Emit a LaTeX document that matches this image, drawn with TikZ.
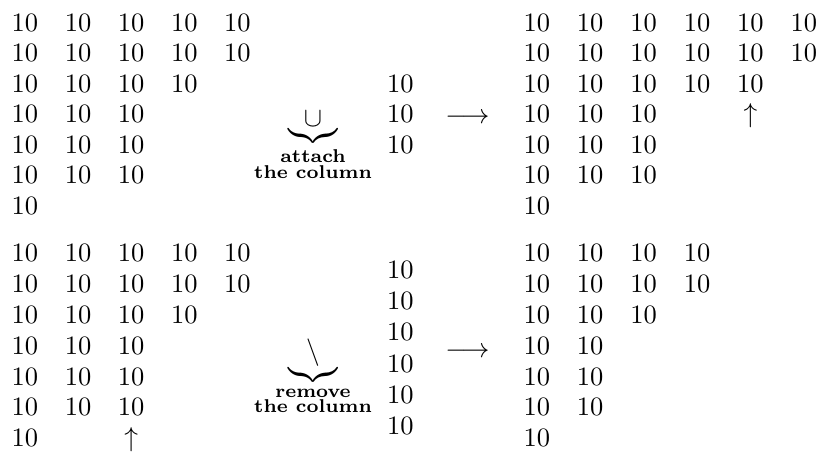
\documentclass[tikz,border=0pt]{standalone}
\usepackage{amsmath}
\begin{document}
\begin{tikzpicture}[x=0.4pt,y=-0.4pt,
  num/.style={anchor=base,inner sep=0pt,font=\fontsize{10.6}{12.7}\selectfont},
  oper/.style={anchor=north,inner sep=0pt,font=\fontsize{10.6}{12.7}\selectfont},
  arrowsym/.style={anchor=base,inner sep=0pt,font=\fontsize{10.6}{12.7}\selectfont}]
\useasboundingbox (0,0) rectangle (820,457);
% top-left matrix
\foreach \n [count=\r] in {5,5,4,3,3,3,1}{
  \foreach \c in {1,...,\n}{
    \node[num] (tl-\r-\c) at ({25+53.1*(\c-1)},{31.5+30.5*(\r-1)}) {10};
  }
}
% top middle column
\foreach \r in {1,2,3}{
  \node[num] (tm-\r) at (400.3,{92.5+30.5*(\r-1)}) {10};
}
% top operator
\node[oper] (cupop) at (313,111) {$\underbrace{\cup}_{\substack{\textbf{attach}\\\textbf{the column}}}$};
\node[arrowsym] (arrtop) at (467.5,124) {$\longrightarrow$};
% top-right matrix
\foreach \n [count=\r] in {6,6,5,3,3,3,1}{
  \foreach \c in {1,...,\n}{
    \node[num] (tr-\r-\c) at ({536.8+53.4*(\c-1)},{31.5+30.5*(\r-1)}) {10};
  }
}
\node[num] (trup) at ({536.8+53.4*4},{31.5+30.5*3}) {$\uparrow$};
% bottom-left matrix
\foreach \n [count=\r] in {5,5,4,3,3,3,1}{
  \foreach \c in {1,...,\n}{
    \node[num] (bl-\r-\c) at ({25+53.1*(\c-1)},{262+30.8*(\r-1)}) {10};
  }
}
\node[num] (blup) at ({25+53.1*2},{262+30.8*6}) {$\uparrow$};
% bottom middle column
\foreach \r in {1,...,6}{
  \node[num] (bm-\r) at (400.3,{278.3+31.3*(\r-1)}) {10};
}
% bottom operator
\node[oper] (minusop) at (313,338) {$\underbrace{\setminus}_{\substack{\textbf{remove}\\\textbf{the column}}}$};
\node[arrowsym] (arrbot) at (467.5,358) {$\longrightarrow$};
% bottom-right matrix
\foreach \n [count=\r] in {4,4,3,2,2,2,1}{
  \foreach \c in {1,...,\n}{
    \node[num] (br-\r-\c) at ({536.8+53.4*(\c-1)},{262+30.8*(\r-1)}) {10};
  }
}
\end{tikzpicture}
\end{document}
